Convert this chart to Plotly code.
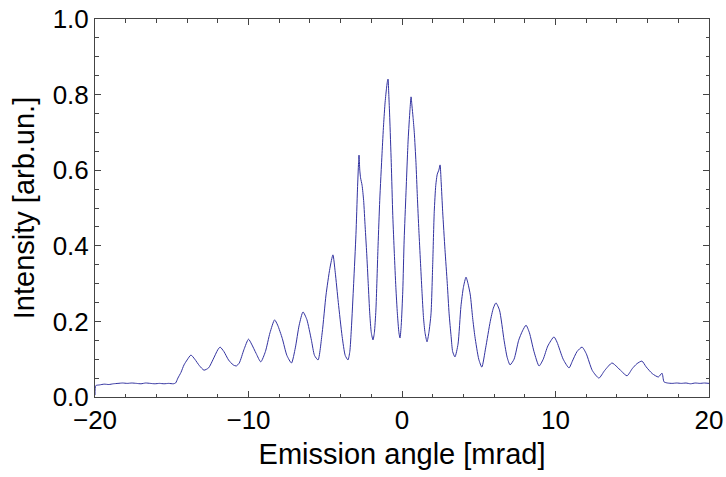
import plotly.graph_objects as go

angle = [-20.0, -19.95, -19.7, -19.4, -19.1, -18.8, -18.5, -18.2, -17.9, -17.6, -17.3, -17.0, -16.7,
         -16.4, -16.1, -15.8, -15.5, -15.2, -14.9, -14.75,
         -14.6, -14.4, -14.2, -14.0, -13.75, -13.5, -13.2, -12.9, -12.6, -12.3, -12.0, -11.85, -11.6,
         -11.3, -11.0, -10.8, -10.6, -10.3, -10.0, -9.8, -9.5, -9.2, -8.9, -8.6, -8.3, -8.1, -7.8,
         -7.5, -7.2, -6.95, -6.7, -6.45, -6.2, -5.9, -5.7, -5.47, -5.2, -4.95, -4.7, -4.5, -4.35,
         -4.15, -3.9, -3.7, -3.52, -3.4, -3.3, -3.15, -3.0, -2.9, -2.83, -2.8, -2.75, -2.7, -2.6,
         -2.5, -2.4, -2.3, -2.2, -2.1, -2.0, -1.89, -1.8, -1.7, -1.56, -1.45, -1.3, -1.2, -1.1,
         -1.0, -0.95, -0.91, -0.86, -0.8, -0.7, -0.6, -0.5, -0.4, -0.3, -0.2, -0.13, -0.05, 0.05,
         0.14, 0.26, 0.4, 0.52, 0.59, 0.65, 0.72, 0.8, 0.91, 1.0, 1.1, 1.2, 1.3, 1.4, 1.5, 1.63,
         1.75, 1.89, 2.0, 2.1, 2.2, 2.3, 2.4, 2.48, 2.55, 2.65, 2.8, 2.95, 3.07, 3.2, 3.3, 3.45,
         3.65, 3.84, 4.0, 4.17, 4.3, 4.45, 4.6, 4.75, 5.0, 5.2, 5.45, 5.75, 5.95, 6.12, 6.35, 6.65,
         6.85, 7.04, 7.3, 7.6, 7.85, 8.08, 8.3, 8.6, 8.93, 9.2, 9.5, 9.9, 10.1, 10.5, 10.88, 11.1,
         11.4, 11.73, 12.0, 12.4, 12.83, 13.2, 13.68, 14.0, 14.3, 14.66, 15.0, 15.3, 15.63, 15.9,
         16.3, 16.7, 16.94, 17.07, 17.3, 17.6, 17.9, 18.2, 18.5, 18.8, 19.1, 19.4, 19.7, 20.0]

intensity = [0.005, 0.030, 0.032, 0.034, 0.033, 0.035, 0.036, 0.037, 0.036, 0.037, 0.036, 0.035, 0.037,
             0.036, 0.035, 0.036, 0.035, 0.036, 0.035, 0.037,
             0.050, 0.065, 0.085, 0.098, 0.111, 0.100, 0.083, 0.071, 0.077, 0.100, 0.125, 0.132, 0.120,
             0.098, 0.085, 0.082, 0.090, 0.125, 0.153, 0.140, 0.115, 0.093, 0.120, 0.170, 0.204, 0.190, 0.155,
             0.110, 0.090, 0.130, 0.190, 0.225, 0.205, 0.150, 0.110, 0.098, 0.170, 0.270, 0.340, 0.376, 0.330,
             0.250, 0.160, 0.110, 0.098, 0.120, 0.180, 0.300, 0.430, 0.550, 0.620, 0.640, 0.600, 0.580, 0.560,
             0.520, 0.450, 0.380, 0.300, 0.220, 0.170, 0.151, 0.170, 0.230, 0.400, 0.520, 0.645, 0.720, 0.780,
             0.820, 0.835, 0.841, 0.800, 0.740, 0.620, 0.480, 0.380, 0.290, 0.220, 0.170, 0.156, 0.190, 0.280,
             0.415, 0.540, 0.680, 0.760, 0.794, 0.770, 0.740, 0.700, 0.620, 0.530, 0.440, 0.360, 0.280, 0.210, 0.170, 0.146,
             0.170, 0.220, 0.350, 0.490, 0.560, 0.590, 0.600, 0.614, 0.570, 0.490, 0.390, 0.300, 0.220, 0.160, 0.120, 0.106,
             0.140, 0.240, 0.290, 0.317, 0.300, 0.270, 0.210, 0.160, 0.100, 0.079, 0.130, 0.200, 0.235, 0.249, 0.230, 0.150,
             0.105, 0.085, 0.100, 0.150, 0.175, 0.190, 0.170, 0.120, 0.082, 0.100, 0.135, 0.159, 0.145, 0.100, 0.077, 0.095,
             0.120, 0.132, 0.115, 0.070, 0.050, 0.070, 0.090, 0.080, 0.068, 0.056, 0.075, 0.088, 0.095, 0.080,
             0.062, 0.053, 0.063, 0.040, 0.037, 0.036, 0.037, 0.036, 0.037, 0.035, 0.037, 0.036, 0.037, 0.036]

x_ticks = [-20, -10, 0, 10, 20]
y_ticks = [0.0, 0.2, 0.4, 0.6, 0.8, 1.0]

fig = go.Figure(go.Scatter(x=angle, y=intensity, mode="lines",
                           line=dict(color="rgb(50,50,160)", width=1, shape="spline", smoothing=0.6)))

axis_common = dict(showgrid=False, zeroline=False, showline=True, linecolor="#444",
                   linewidth=1, mirror="allticks", ticks="inside", tickcolor="#444",
                   ticklen=6, tickwidth=1, automargin=False, ticklabeloverflow="allow",
                   tickfont=dict(family="Liberation Sans, Arial", size=26, color="black"))

fig.update_xaxes(range=[-20, 20], tickvals=x_ticks, **axis_common,
                 minor=dict(dtick=2, ticks="inside", ticklen=3.5, tickcolor="#444"),
                 title=dict(text="Emission angle [mrad]",
                            font=dict(family="Liberation Sans, Arial", size=29, color="black"),
                            standoff=9))
fig.update_yaxes(range=[0, 1.0], tickvals=y_ticks, tickformat=".1f", **axis_common,
                 minor=dict(dtick=0.05, ticks="inside", ticklen=3.5, tickcolor="#444"),
                 title=dict(text="Intensity [arb.un.]",
                            font=dict(family="Liberation Sans, Arial", size=29, color="black"),
                            standoff=9))

fig.update_layout(width=726, height=477, plot_bgcolor="white", paper_bgcolor="white",
                  margin=dict(l=95, r=17, t=19, b=80), showlegend=False)

# remove the default page margin so the figure sits at the window's top-left corner
fig.write_html("out.html", config={"displayModeBar": False},
               post_script="document.body.style.margin='0';")
